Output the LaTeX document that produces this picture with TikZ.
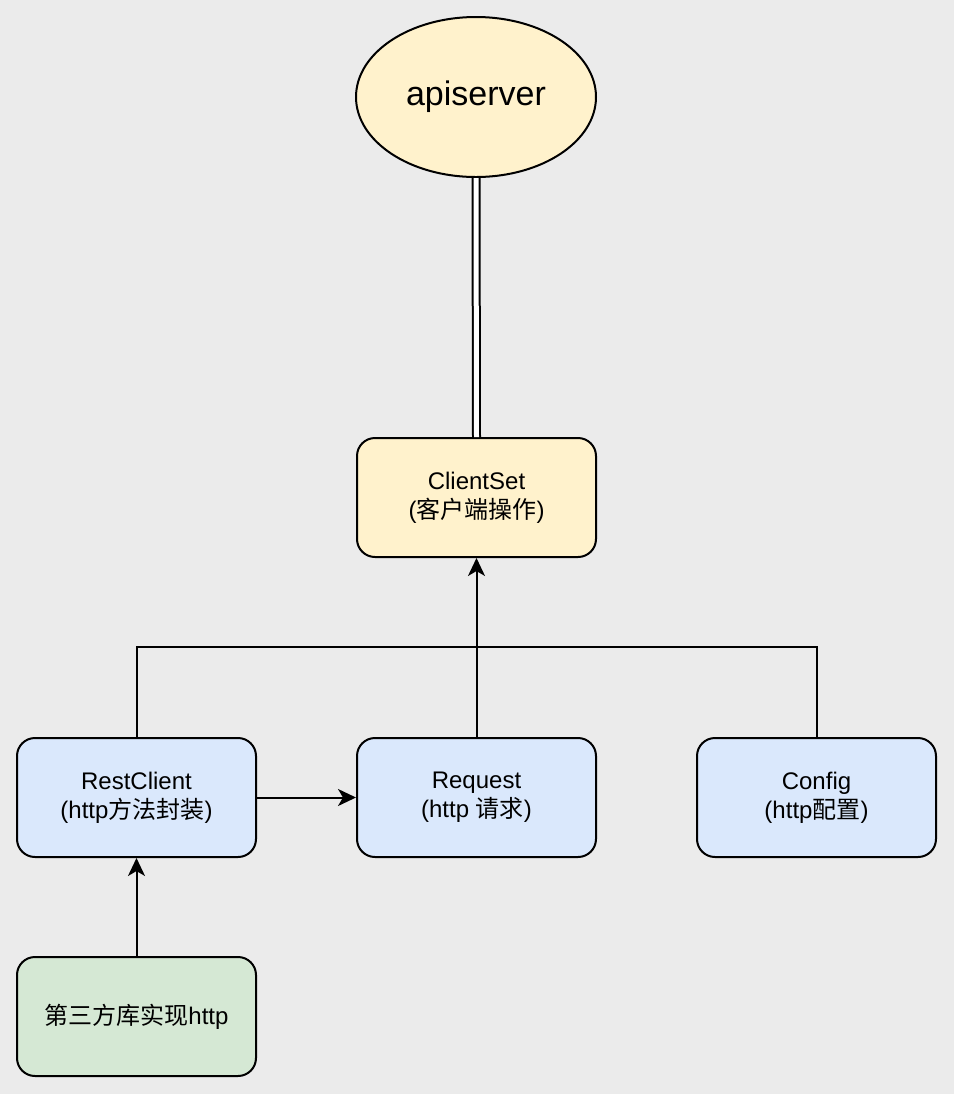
\documentclass[tikz,border=0pt]{standalone}
\usepackage{fontspec}
\setmainfont{Liberation Sans}
\newfontfamily\cjk{Noto Sans CJK SC}
\usetikzlibrary{shapes.geometric,arrows.meta}
\definecolor{bgcol}{HTML}{EBEBEB}
\definecolor{yelcol}{HTML}{FFF2CC}
\definecolor{bluecol}{HTML}{DAE8FC}
\definecolor{greencol}{HTML}{D5E8D4}
\begin{document}
\begin{tikzpicture}[x=0.5pt, y=-0.5pt, line width=1pt,
  box/.style={draw, rounded corners=9pt, minimum width=119.5pt, minimum height=59.5pt,
    align=center, font=\fontsize{12}{14.5}\selectfont},
  arr/.style={-{Stealth[length=9pt, width=8.5pt, inset=2.5pt]}}]
  \fill[bgcol] (0,0) rectangle (954,1094);
  \node[ellipse, draw, fill=yelcol, minimum width=120pt, minimum height=80pt,
    font=\fontsize{17}{20}\selectfont] (api) at (476,97) {apiserver};
  \node[box, fill=yelcol] (cs) at (476.5,497.5) {ClientSet\\({\cjk 客户端操作})};
  \node[box, fill=bluecol] (rest) at (136.5,797.5) {RestClient\\(http{\cjk 方法封装})};
  \node[box, fill=bluecol] (req) at (476.5,797.5) {Request\\(http {\cjk 请求})};
  \node[box, fill=bluecol] (conf) at (816.5,797.5) {Config\\(http{\cjk 配置})};
  \node[box, fill=greencol] (lib) at (136.5,1016.5) {{\cjk 第三方库实现}http};
    % links
    \draw[double, double distance=2.5pt] (api.south) -- (cs.north);
    \coordinate (join) at (476.5,647);
    \draw (rest.north) |- (join);  \draw (conf.north) |- (join);
    \draw (req.north) -- (join);   \draw[arr] (join) -- (cs.south);
    \draw[arr] (rest.east) -- (req.west);
    \draw[arr] (lib.north) -- (rest.south);
\end{tikzpicture}
\end{document}
